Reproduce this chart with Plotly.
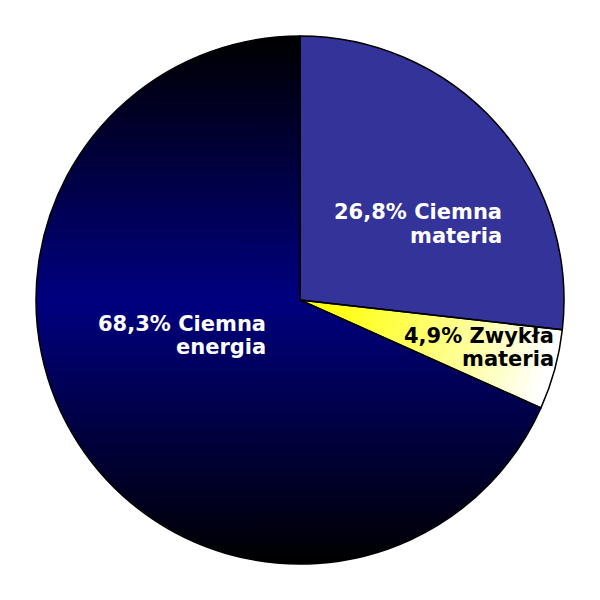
import base64
import plotly.graph_objects as go

# ---- data ----
labels = ["Ciemna materia", "Zwykła materia", "Ciemna energia"]
values = [26.8, 4.9, 68.3]

# ---- styles ----
dark_matter_color = "#333399"
text_colors = ["white", "black", "white"]
FONT = "DejaVu Sans"
TRANSP = "rgba(0,0,0,0)"

OFF = 8   # page body offset
M = 36    # desired screen margin -> pie radius 264
W = 600 - 2 * M

fig = go.Figure()

# background gradient disc (fill texture for the "dark energy" slice)
svg = (
    '<svg xmlns="http://www.w3.org/2000/svg" viewBox="0 0 100 100" width="528" height="528">'
    '<defs><linearGradient id="g" x1="0" y1="0" x2="0" y2="1">'
    '<stop offset="0" stop-color="#000000"/>'
    '<stop offset="0.5" stop-color="#000080"/>'
    '<stop offset="1" stop-color="#000000"/>'
    '</linearGradient></defs>'
    '<circle cx="50" cy="50" r="50" fill="url(#g)"/></svg>'
)
src = "data:image/svg+xml;base64," + base64.b64encode(svg.encode()).decode()

common = dict(
    labels=labels, values=values, sort=False, direction="clockwise", rotation=0,
    textinfo="none", hoverinfo="skip", showlegend=False,
    domain=dict(x=[0, 1], y=[0, 1]),
)

# base pie: dark matter solid, others transparent
fig.add_trace(go.Pie(
    marker=dict(colors=[dark_matter_color, TRANSP, TRANSP], line=dict(width=0)),
    **common,
))

# radial rings for the yellow -> white gradient of ordinary matter
N = 24
for k in range(N):
    f = (k + 0.5) / N
    c = f"rgb(255,255,{int(round(255 * min(1.0, f ** 1.3 * 1.05)))})"
    fig.add_trace(go.Pie(
        hole=k / N if k > 0 else 0,
        marker=dict(colors=[TRANSP, c, TRANSP], line=dict(width=0)),
        **common,
    ))

# outline on top
fig.add_trace(go.Pie(
    marker=dict(colors=[TRANSP] * 3, line=dict(color="black", width=1.5)),
    **common,
))

# labels
def pct(v):
    return f"{v:.1f}%".replace(".", ",")

label_pos = [  # (right edge px, center y px) in screen coordinates
    (504, 224),
    (556, 347),
    (268, 335),
]
for (lab, v, col, (xr, yc)) in zip(labels, values, text_colors, label_pos):
    w1, w2 = lab.split(" ", 1)
    lines = [f"{pct(v)} {w1}", w2]
    for i, line in enumerate(lines):
        y = yc + (i - 0.5) * 23
        fig.add_annotation(
            x=(xr - M) / W, y=1 - (y - M) / W, xref="paper", yref="paper",
            xanchor="right", yanchor="middle", showarrow=False,
            text=f"<b>{line}</b>",
            font=dict(family=FONT, size=21, color=col),
        )

fig.update_layout(
    width=600, height=600,
    margin=dict(l=M - OFF, r=M + OFF, t=M - OFF, b=M + OFF),
    paper_bgcolor="white", plot_bgcolor="white",
    images=[dict(source=src, xref="paper", yref="paper", x=0, y=1,
                 sizex=1, sizey=1, xanchor="left", yanchor="top",
                 sizing="stretch", layer="below")],
)

fig.write_html("out.html")
